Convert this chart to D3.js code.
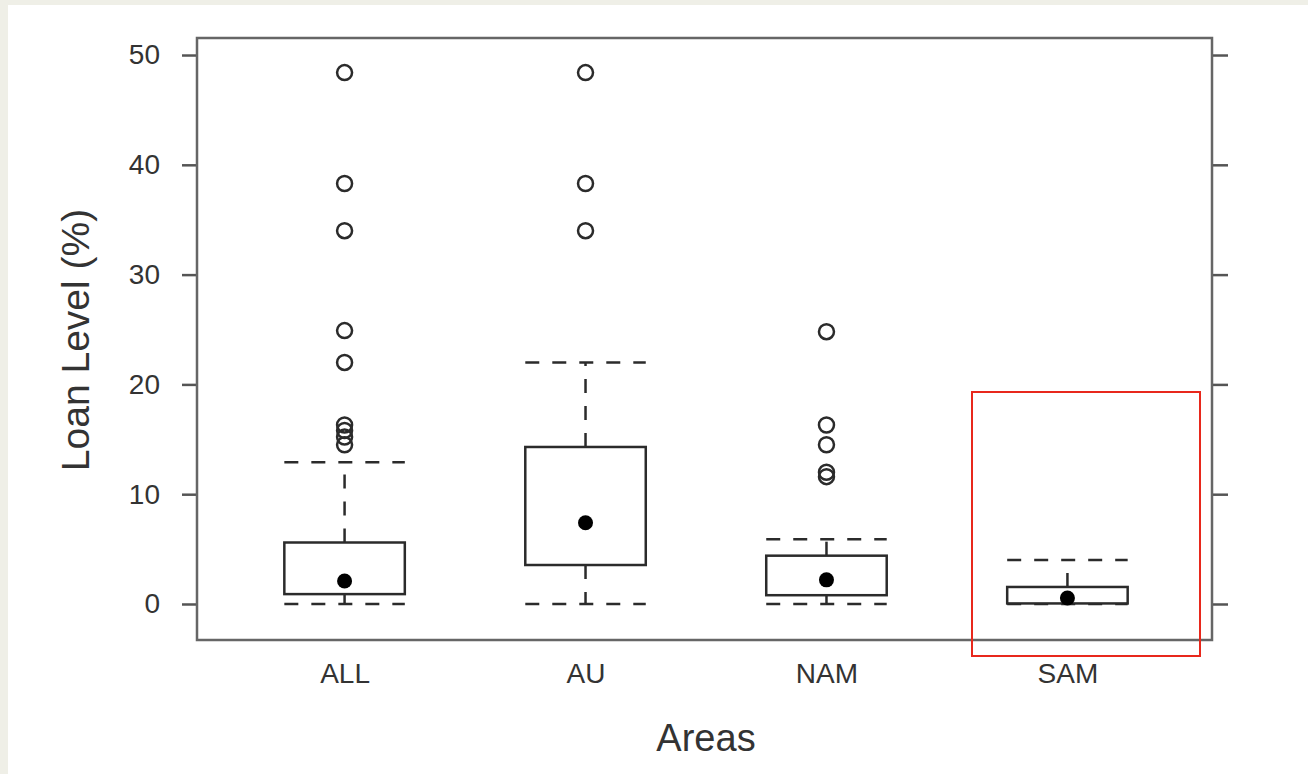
<!DOCTYPE html>
<html>
<head>
<meta charset="utf-8">
<script src="https://cdn.jsdelivr.net/npm/d3@7"></script>
<style>
  html, body { margin: 0; padding: 0; background: #efefe7; }
  text { font-family: "Liberation Sans", Arial, sans-serif; fill: #333; }
</style>
</head>
<body>
<div id="chart"></div>
<script>
// values
var categories = ["ALL", "AU", "NAM", "SAM"];
var whiskerLow = [0, 0, 0, 0];
var q1 = [0.9, 3.55, 0.8, 0.05];
var median = [2.1, 7.4, 2.2, 0.55];
var q3 = [5.6, 14.3, 4.4, 1.55];
var whiskerHigh = [12.9, 22.0, 5.9, 4.0];
var outliers = [
    [48.4, 38.3, 34.0, 24.9, 22.0, 16.3, 15.8, 15.2, 14.5],
    [48.4, 38.3, 34.0],
    [24.8, 16.3, 14.5, 12.0, 11.6],
    []
];
var yTicks = [0, 10, 20, 30, 40, 50];

function init() {
    var w = 1308, h = 774;
    var frame = { left: 197, right: 1212, top: 38, bottom: 640 };

    var svg = d3.select("#chart").append("svg")
        .attr("width", w)
        .attr("height", h)
        .style("display", "block");

    // white page area (beige strip left and top)
    svg.append("rect")
        .attr("x", 8).attr("y", 5)
        .attr("width", w - 8).attr("height", h - 5)
        .attr("fill", "#ffffff");

    var x = d3.scalePoint().domain(categories)
        .range([frame.left + 3, frame.right]).padding(0.6);
    var y = d3.scaleLinear().domain([-3.28, 51.55])
        .range([frame.bottom, frame.top]);

    var boxW = x.step() * 0.5;

    // left axis with labels
    var yAxis = svg.append("g")
        .attr("transform", `translate(${frame.left},0)`)
        .call(d3.axisLeft(y).tickValues(yTicks).tickSize(15).tickPadding(22));
    yAxis.select(".domain").remove();
    yAxis.selectAll("line").attr("stroke", "#555").attr("stroke-width", 2.5);
    yAxis.selectAll("text").attr("font-size", 28).attr("fill", "#333")
        .attr("font-family", "Liberation Sans, Arial, sans-serif");

    // right axis, ticks only
    var yAxisR = svg.append("g")
        .attr("transform", `translate(${frame.right},0)`)
        .call(d3.axisRight(y).tickValues(yTicks).tickSize(16).tickFormat(""));
    yAxisR.select(".domain").remove();
    yAxisR.selectAll("line").attr("stroke", "#555").attr("stroke-width", 2.5);

    // bottom labels
    var xAxis = svg.append("g")
        .attr("transform", `translate(0,${frame.bottom})`)
        .call(d3.axisBottom(x).tickSize(0).tickPadding(23));
    xAxis.select(".domain").remove();
    xAxis.selectAll("text").attr("font-size", 28).attr("fill", "#333")
        .attr("font-family", "Liberation Sans, Arial, sans-serif");

    // frame
    svg.append("rect")
        .attr("x", frame.left).attr("y", frame.top)
        .attr("width", frame.right - frame.left)
        .attr("height", frame.bottom - frame.top)
        .attr("fill", "none")
        .attr("stroke", "#666")
        .attr("stroke-width", 2.5);

    var boxes = svg.append("g").selectAll("g")
        .data(categories)
        .enter().append("g");

    var dash = "14,13";
    var ink = "#2b2b2b";

    // whiskers (vertical dashed)
    boxes.append("line")
        .attr("x1", d => x(d)).attr("x2", d => x(d))
        .attr("y1", (d, i) => y(q3[i])).attr("y2", (d, i) => y(whiskerHigh[i]))
        .attr("stroke", ink).attr("stroke-width", 2.5).attr("stroke-dasharray", dash);
    boxes.append("line")
        .attr("x1", d => x(d)).attr("x2", d => x(d))
        .attr("y1", (d, i) => y(q1[i])).attr("y2", (d, i) => y(whiskerLow[i]))
        .attr("stroke", ink).attr("stroke-width", 2.5).attr("stroke-dasharray", dash);

    // caps (horizontal dashed, full box width)
    boxes.append("line")
        .attr("x1", d => x(d) - boxW / 2).attr("x2", d => x(d) + boxW / 2)
        .attr("y1", (d, i) => y(whiskerHigh[i])).attr("y2", (d, i) => y(whiskerHigh[i]))
        .attr("stroke", ink).attr("stroke-width", 2.5).attr("stroke-dasharray", dash);
    boxes.append("line")
        .attr("x1", d => x(d) - boxW / 2).attr("x2", d => x(d) + boxW / 2)
        .attr("y1", (d, i) => y(whiskerLow[i])).attr("y2", (d, i) => y(whiskerLow[i]))
        .attr("stroke", ink).attr("stroke-width", 2.5).attr("stroke-dasharray", dash);

    // box
    boxes.append("rect")
        .attr("x", d => x(d) - boxW / 2)
        .attr("y", (d, i) => y(q3[i]))
        .attr("width", boxW)
        .attr("height", (d, i) => y(q1[i]) - y(q3[i]))
        .attr("fill", "#ffffff")
        .attr("stroke", ink).attr("stroke-width", 2.5);

    // median dot
    boxes.append("circle")
        .attr("cx", d => x(d))
        .attr("cy", (d, i) => y(median[i]))
        .attr("r", 7.5)
        .attr("fill", "#000");

    // outliers
    boxes.each(function(d, i) {
        d3.select(this).selectAll(".out")
            .data(outliers[i])
            .enter().append("circle")
            .attr("class", "out")
            .attr("cx", x(d))
            .attr("cy", v => y(v))
            .attr("r", 7.5)
            .attr("fill", "none")
            .attr("stroke", ink)
            .attr("stroke-width", 2.5);
    });

    // axis titles
    svg.append("text")
        .attr("x", 706)
        .attr("y", 751)
        .attr("text-anchor", "middle")
        .attr("font-size", 38)
        .text("Areas");

    svg.append("text")
        .attr("transform", `translate(89,340) rotate(-90)`)
        .attr("text-anchor", "middle")
        .attr("font-size", 39)
        .text("Loan Level (%)");

    // red highlight rectangle around SAM
    svg.append("rect")
        .attr("x", 972).attr("y", 392)
        .attr("width", 228).attr("height", 264)
        .attr("fill", "none")
        .attr("stroke", "#e8281c")
        .attr("stroke-width", 2);
}

window.onload = init;
</script>
</body>
</html>
